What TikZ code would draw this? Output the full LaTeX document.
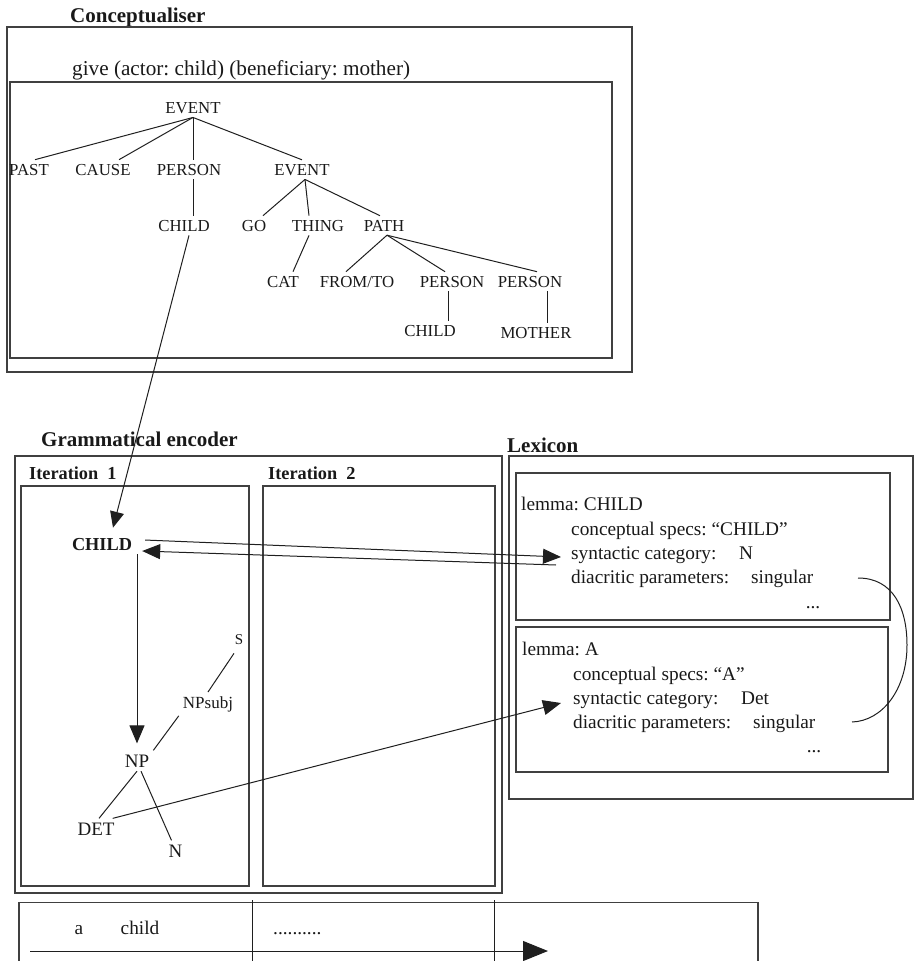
\documentclass[tikz,border=0pt]{standalone}
\usepackage{fontspec}
\setmainfont{Liberation Serif}
\usetikzlibrary{arrows.meta,calc}
\frenchspacing
\newcommand\hdsz{\fontsize{21}{24}\selectfont\bfseries}
\newcommand\trsz{\fontsize{16.8}{19}\selectfont}
\newcommand\lxsz{\fontsize{19.3}{22}\selectfont}
\begin{document}
\begin{tikzpicture}[x=1pt,y=-1pt,
  box/.style={draw=black!75,line width=1.1pt},
  ln/.style={draw=black!88,line width=1pt},
  arr/.style={draw=black!88,line width=1pt,-{Triangle[length=18pt,width=15pt]}},
  lbl/.style={inner sep=0pt,anchor=base west,text=black!90},
  hd/.style={lbl,font=\hdsz},
  lx/.style={lbl,font=\lxsz},
  tn/.style={inner xsep=2pt,inner ysep=4pt,anchor=base,text=black!90,font=\trsz},
  gn/.style={inner xsep=4pt,inner ysep=4pt,anchor=base,text=black!90,font=\fontsize{19}{22}\selectfont}
]
\useasboundingbox (0,0) rectangle (914,961);

% ---------- Conceptualiser ----------
\node[hd] (hconc) at (70,23) {Conceptualiser};
\draw[box] (7,27) rectangle (632,372);
\node[lbl,font=\fontsize{21.2}{24}\selectfont] (give) at (72,75) {give (actor: child) (beneficiary: mother)};
\draw[box] (10,82) rectangle (612,358);

\node[tn] (ev1) at (193,113) {EVENT};
\node[tn] (past) at (29,175) {PAST};
\node[tn] (cause) at (103,175) {CAUSE};
\node[tn] (pers1) at (189,175) {PERSON};
\node[tn] (ev2) at (302,175) {EVENT};
\node[tn] (child1) at (184,231) {CHILD};
\node[tn] (go) at (254,231) {GO};
\node[tn] (thing) at (318,231) {THING};
\node[tn] (path) at (384,231) {PATH};
\node[tn] (cat) at (283,287) {CAT};
\node[tn] (fromto) at (357,287) {FROM/TO};
\node[tn] (pers3) at (452,287) {PERSON};
\node[tn] (pers4) at (530,287) {PERSON};
\node[tn] (child2) at (430,336) {CHILD};
\node[tn] (mother) at (536,338) {MOTHER};

\draw[ln] (ev1.south) -- ([xshift=6pt]past.north);
\draw[ln] (ev1.south) -- ([xshift=16pt]cause.north);
\draw[ln] (ev1.south) -- ([xshift=4pt]pers1.north);
\draw[ln] (ev1.south) -- (ev2.north);
\draw[ln] ([xshift=4pt]pers1.south) -- ([xshift=9pt]child1.north);
\draw[ln] ([xshift=3pt]ev2.south) -- ([xshift=9pt]go.north);
\draw[ln] ([xshift=3pt]ev2.south) -- ([xshift=-9pt]thing.north);
\draw[ln] ([xshift=3pt]ev2.south) -- ([xshift=-4pt]path.north);
\draw[ln] ([xshift=-9pt]thing.south) -- ([xshift=10pt]cat.north);
\draw[ln] ([xshift=3pt]path.south) -- ([xshift=-11pt]fromto.north);
\draw[ln] ([xshift=3pt]path.south) -- ([xshift=-7pt]pers3.north);
\draw[ln] ([xshift=3pt]path.south) -- ([xshift=7pt]pers4.north);
\draw[ln] ([xshift=-4pt]pers3.south) -- ([xshift=18pt]child2.north);
\draw[ln] ([xshift=17pt]pers4.south) -- ([xshift=11pt]mother.north);

% ---------- Grammatical encoder ----------
\node[hd] (hge) at (41,446) {Grammatical encoder};
\draw[box] (15,456) rectangle (502,893);
\node[lbl,font=\fontsize{18.3}{21}\selectfont\bfseries] (it1) at (29,479) {Iteration\hspace{9pt}1};
\node[lbl,font=\fontsize{18.3}{21}\selectfont\bfseries] (it2) at (268,479) {Iteration\hspace{9pt}2};
\draw[box] (21,486) rectangle (249,886);
\draw[box] (263,486) rectangle (495,886);

\node[gn,font=\fontsize{18.3}{21}\selectfont\bfseries] (gchild) at (102,550) {CHILD};
\node[gn,font=\fontsize{15}{18}\selectfont] (s) at (239,644) {S};
\node[gn,font=\fontsize{17}{20}\selectfont] (npsubj) at (208,708) {NPsubj};
\node[gn] (np) at (137,767) {NP};
\node[gn] (det) at (96,835) {DET};
\node[gn] (n) at (175.5,857) {N};

\draw[ln] ([xshift=-5pt,yshift=-5pt]s.south) -- (npsubj.north);
\draw[ln] (npsubj.south west) -- (np.north east);
\draw[ln] (np.south) -- ([xshift=3pt]det.north);
\draw[ln] ([xshift=4pt]np.south) -- ([xshift=-4pt]n.north);
\draw[arr] (gchild.south -| np.north) -- ([yshift=7pt]np.north);

% ---------- Lexicon ----------
\node[hd] (hlex) at (507,452) {Lexicon};
\draw[box] (509,456) rectangle (913,799);
\draw[box] (516,473) rectangle (890,620);
\draw[box] (516,627) rectangle (888,772);

\node[lx] (lem1) at (521,510) {lemma: CHILD};
\node[lx] (cs1) at (571,535.5) {conceptual specs: “CHILD”};
\node[lx] (syn1) at (571,559) {syntactic category:};
\node[lx] (nval) at (739,559) {N};
\node[lx] (dia1) at (571,583.5) {diacritic parameters:};
\node[lx] (sg1) at (751,583.5) {singular};
\node[lx,anchor=base] (el1) at (813,608) {...};

\node[lx] (lem2) at (522,655) {lemma: A};
\node[lx] (cs2) at (573,680) {conceptual specs: “A”};
\node[lx] (syn2) at (573,704) {syntactic category:};
\node[lx] (detval) at (741,704) {Det};
\node[lx] (dia2) at (573,728) {diacritic parameters:};
\node[lx] (sg2) at (753,728) {singular};
\node[lx,anchor=base] (el2) at (814,752) {...};

\coordinate (cs) at (858,578);
\coordinate (ce) at (852,722);
\draw[ln] (cs) .. controls (893,578) and (907,608) .. (907,645)
               .. controls (907,690) and (882,721) .. (ce);

% ---------- connectors ----------
\draw[draw=black!88,line width=1pt,-{Triangle[length=16pt,width=14pt]}]
  ([xshift=5pt]child1.south) -- ([xshift=11pt,yshift=6pt]gchild.north);
\draw[arr] ([xshift=9pt,yshift=4pt]gchild.east) -- ([xshift=-10pt,yshift=2pt]syn1.base west);
\draw[arr] ([xshift=-15pt,yshift=-6pt]syn1.base west) -- ([xshift=6pt,yshift=-1pt]gchild.base east);
\draw[arr] ([xshift=-6pt]det.north east) -- ([xshift=-12pt,yshift=1pt]syn2.base west);

% ---------- output strip ----------
\draw[box] (19,961) -- (19,902.5) -- (758,902.5) -- (758,961);
\draw[ln] (252,900) -- (252,961);
\draw[ln] (494,900) -- (494,961);
\node[lx,anchor=base] (wa) at (79,934) {a};
\node[lx,anchor=base] (wchild) at (140,934) {child};
\node[lx] (wdots) at (273,934) {..........};
\coordinate (bs) at (30,951);
\coordinate (be) at (548,951);
\draw[draw=black!88,line width=1pt,-{Triangle[length=25pt,width=20pt]}] (bs) -- (be);
\end{tikzpicture}
\end{document}
